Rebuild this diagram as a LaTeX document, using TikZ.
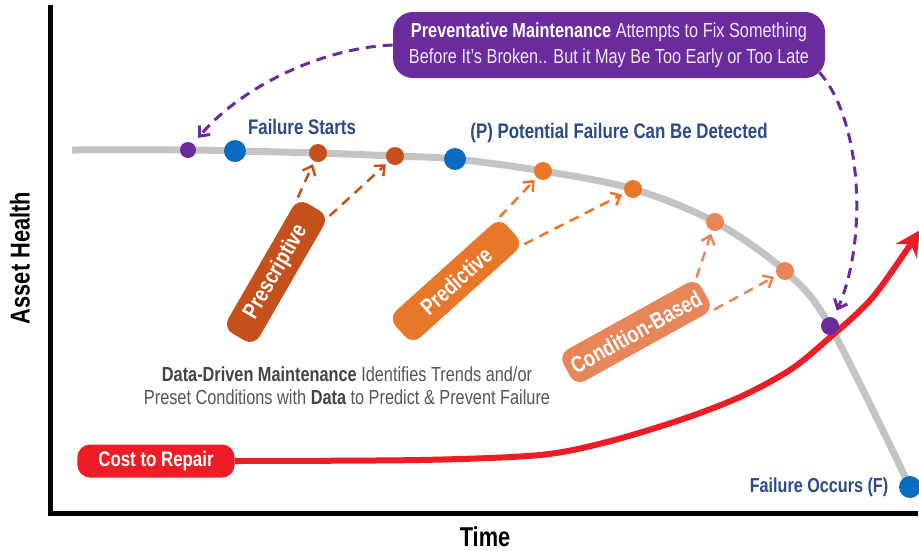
\documentclass[tikz,border=0pt]{standalone}
\usepackage{fontspec}
\setmainfont{Liberation Sans}[FakeStretch=0.8]
\usetikzlibrary{arrows.meta}

\definecolor{pmpurple}{HTML}{6A2C9C}
\definecolor{dotblue}{HTML}{0A6CC0}
\definecolor{txtblue}{HTML}{2B4A8A}
\definecolor{presc}{HTML}{C4501B}
\definecolor{predi}{HTML}{E8772A}
\definecolor{condi}{HTML}{E8865A}
\definecolor{repair}{HTML}{EE1C24}
\definecolor{healthgray}{HTML}{C4C4C4}
\definecolor{note}{HTML}{555555}

\tikzset{
  spot/.style={circle,inner sep=0pt,minimum size=3.6mm},
  bigspot/.style={spot,fill=dotblue,minimum size=4.4mm},
  pill/.style={rectangle,rounded corners=2.2mm,minimum width=30mm,minimum height=7.2mm,
    text=white,font=\fontsize{13}{15}\selectfont\bfseries},
  hint/.style={dash pattern=on 2mm off 1.4mm,line width=0.5mm,
    -{Straight Barb[length=1.6mm,width=2.8mm]},shorten >=0.6mm},
  pmhint/.style={hint,pmpurple,line width=0.6mm,shorten >=1.5mm},
  tag/.style={text=txtblue,font=\fontsize{12}{14}\selectfont\bfseries},
  axislabel/.style={font=\fontsize{15.5}{18}\selectfont\bfseries},
}

\begin{document}
\begin{tikzpicture}[x=0.2mm,y=-0.2mm]
\useasboundingbox (0,0) rectangle (919,550);

% axes
\draw[line width=1mm] (50,5) -- (50,513) -- (918,513);
\node[axislabel,rotate=90] (health) at (20,258) {Asset Health};
\node[axislabel] (time) at (485,537) {Time};

% health curve
\draw[healthgray,line width=1.4mm] plot[smooth,tension=0.55] coordinates {
  (72,150) (188,150) (235,151) (318,153) (395,156) (455,159) (543,171)
  (633,189) (715,222) (785,271) (830,326) (910,487)};

% cost to repair
\node[fill=repair,rounded corners=2.5mm,minimum width=31.4mm,minimum height=6.6mm,
  text=white,font=\fontsize{12}{14}\selectfont\bfseries] (cost) at (156,461) {Cost to Repair};
\draw[repair,line width=1.2mm,-{Stealth[length=5mm,width=5mm]}]
  plot[smooth,tension=0.5] coordinates {
  (cost.east) (420,460) (540,455) (607,442) (680,420) (740,397)
  (790,370) (827,340) (873,297) (920,230)};

% points on the curve
\node[spot,fill=pmpurple,minimum size=3.2mm] (pm1) at (188,150) {};
\node[bigspot] (fs) at (235,151) {};
\node[spot,fill=presc] (o1) at (318,153) {};
\node[spot,fill=presc] (o2) at (395,156) {};
\node[bigspot] (pf) at (455,159) {};
\node[spot,fill=predi] (o3) at (543,171) {};
\node[spot,fill=predi] (o4) at (633,189) {};
\node[spot,fill=condi] (o5) at (715,222) {};
\node[spot,fill=condi] (o6) at (785,271) {};
\node[spot,fill=pmpurple] (pm2) at (830,326) {};
\node[bigspot] (fo) at (910,487) {};

\node[tag] (fstext) at (302,127) {Failure Starts};
\node[tag] (pftext) at (619,133) {(P) Potential Failure Can Be Detected};
\node[tag,font=\fontsize{11.5}{13}\selectfont\bfseries] (fotext) at (819,487) {Failure Occurs (F)};

% preventative maintenance
\node[fill=pmpurple,rounded corners=4mm,minimum width=86.4mm,minimum height=13.2mm,
  text=white!88!pmpurple,align=center,font=\fontsize{11.6}{15}\selectfont] (pm) at (609,45)
  {\textbf{\color{white}Preventative Maintenance} Attempts to Fix Something\\
   Before It’s Broken.. But it May Be Too Early or Too Late};
\draw[pmhint] (pm.west) .. controls (320,48) and (240,88) .. (pm1);
\draw[pmhint] ([shift={(-6,-6)}]pm.south east) .. controls (862,120) and (868,240) .. (pm2);

% data-driven maintenance
\node[pill,fill=presc,rotate=60] (pre) at (276,272) {Prescriptive};
\node[pill,fill=predi,rotate=42] (pred) at (456,281) {Predictive};
\node[pill,fill=condi,rotate=29] (cond) at (636,332) {Condition-Based};

\draw[hint,presc] (pre.north east) -- (o1);
\draw[hint,presc] (pre.south east) -- (o2);
\draw[hint,predi] (pred.north east) -- (o3);
\draw[hint,predi] (pred.south east) -- (o4);
\draw[hint,condi] (cond.north east) -- (o5);
\draw[hint,condi] (cond.south east) -- (o6);

\node[text=note,align=center,font=\fontsize{11.6}{13}\selectfont] (ddm) at (347,386)
  {\textbf{\color{note!80!black}Data-Driven Maintenance} Identifies Trends and/or\\
   Preset Conditions with \textbf{\color{note!80!black}Data} to Predict \& Prevent Failure};
\end{tikzpicture}
\end{document}
